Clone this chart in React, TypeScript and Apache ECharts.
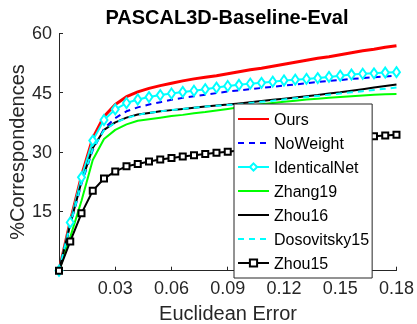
import React, { useEffect, useRef } from "react";
import * as echarts from "echarts";

const xValues = [0, 0.006, 0.012, 0.018, 0.024, 0.03, 0.036, 0.042, 0.048, 0.054, 0.06, 0.066, 0.072, 0.078, 0.084, 0.09, 0.096, 0.102, 0.108, 0.114, 0.12, 0.126, 0.132, 0.138, 0.144, 0.15, 0.156, 0.162, 0.168, 0.174, 0.18];

const ours = [0, 12.5, 24.0, 33.5, 39.0, 42.0, 44.0, 45.2, 46.1, 46.8, 47.4, 48.0, 48.5, 48.9, 49.3, 49.8, 50.3, 50.8, 51.2, 51.7, 52.2, 52.7, 53.2, 53.7, 54.1, 54.6, 55.1, 55.6, 56.0, 56.5, 56.9];
const noWeight = [0, 11.5, 22.0, 30.5, 35.9, 38.6, 40.3, 41.3, 42.0, 42.6, 43.2, 43.7, 44.1, 44.5, 44.9, 45.3, 45.6, 45.9, 46.2, 46.5, 46.8, 47.1, 47.4, 47.7, 48.0, 48.2, 48.5, 48.7, 48.9, 49.1, 49.3];
const identicalNet = [0, 12.2, 23.6, 32.9, 38.1, 40.8, 42.4, 43.3, 43.9, 44.4, 44.8, 45.2, 45.5, 45.9, 46.3, 46.7, 47.0, 47.3, 47.5, 47.8, 48.1, 48.3, 48.5, 48.7, 49.0, 49.3, 49.6, 49.8, 49.9, 50.1, 50.2];
const zhang19 = [0, 8.5, 17.7, 28.0, 33.3, 35.6, 37.0, 37.9, 38.3, 38.7, 39.1, 39.4, 39.8, 40.1, 40.5, 40.9, 41.3, 41.7, 42.1, 42.4, 42.7, 43.0, 43.3, 43.5, 43.7, 43.9, 44.1, 44.3, 44.5, 44.6, 44.7];
const zhou16 = [0, 11.8, 22.5, 31.0, 35.6, 37.5, 38.7, 39.5, 39.9, 40.3, 40.6, 40.9, 41.2, 41.5, 41.8, 42.0, 42.3, 42.6, 42.9, 43.2, 43.5, 43.8, 44.1, 44.4, 44.8, 45.1, 45.5, 45.9, 46.3, 46.7, 47.1];
const dosovitsky15 = [0, 11.6, 22.3, 30.8, 35.5, 37.4, 38.6, 39.4, 39.9, 40.3, 40.6, 40.9, 41.2, 41.5, 41.7, 41.9, 42.1, 42.4, 42.7, 43.0, 43.3, 43.6, 43.9, 44.2, 44.5, 44.8, 45.1, 45.4, 45.7, 46.0, 46.3];
const zhou15 = [0, 7.4, 14.5, 20.2, 23.3, 25.1, 26.4, 27.0, 27.6, 28.1, 28.5, 28.9, 29.2, 29.5, 29.8, 30.1, 30.4, 30.7, 31.0, 31.3, 31.6, 31.9, 32.2, 32.5, 32.8, 33.1, 33.4, 33.7, 34.0, 34.2, 34.4];

const seriesNames = ["Ours", "NoWeight", "IdenticalNet", "Zhang19", "Zhou16", "Dosovitsky15", "Zhou15"];
const markerSeries = ["IdenticalNet", "Zhou15"];
const xTickValues = [0.03, 0.06, 0.09, 0.12, 0.15, 0.18];
const yTickValues = [15, 30, 45, 60];

const titleText = "PASCAL3D-Baseline-Eval";
const xLabelText = "Euclidean Error";
const yLabelText = "%Correspondences";

const FONT = "'Liberation Sans', Arial, Helvetica, sans-serif";
const AXIS_COLOR = "#262626";

function pairs(ys: number[]) {
  return xValues.map((x, i) => [x, ys[i]]);
}

export default function App() {
  const ref = useRef<HTMLDivElement>(null);
  useEffect(() => {
    if (!ref.current) return;
    const chart = echarts.init(ref.current, null, { renderer: "svg" });
    const lineBase = (name: string, ys: number[], color: string, width: number, type: any, extra: any = {}) => ({
      name,
      type: "line",
      data: pairs(ys),
      symbol: "none",
      showSymbol: false,
      lineStyle: { color, width, type },
      itemStyle: { color },
      emphasis: { disabled: true },
      ...extra,
    });
    const legendData = seriesNames.map((n) =>
      markerSeries.indexOf(n) >= 0
        ? { name: n }
        : { name: n, itemStyle: { color: "rgba(0,0,0,0)", borderColor: "rgba(0,0,0,0)", borderWidth: 0 } }
    );
    chart.setOption({
      animation: false,
      textStyle: { fontFamily: FONT },
      grid: { left: 59, top: 33.4, width: 338, height: 237.3, containLabel: false },
      xAxis: {
        type: "value",
        min: 0,
        max: 0.18,
        interval: 0.03,
        axisLine: { show: true, lineStyle: { color: AXIS_COLOR, width: 1 } },
        axisTick: { show: true, inside: true, length: 4, lineStyle: { color: AXIS_COLOR } },
        splitLine: { show: false },
        axisLabel: {
          fontSize: 18,
          color: AXIS_COLOR,
          fontFamily: FONT,
          margin: 8,
          formatter: (v: number) => {
            const hit = xTickValues.find((t) => Math.abs(t - v) < 1e-9);
            return hit !== undefined ? hit.toFixed(2) : "";
          },
        },
      },
      yAxis: {
        type: "value",
        min: 0,
        max: 60,
        interval: 15,
        axisLine: { show: true, lineStyle: { color: AXIS_COLOR, width: 1 } },
        axisTick: { show: true, inside: true, length: 4, lineStyle: { color: AXIS_COLOR } },
        splitLine: { show: false },
        axisLabel: {
          fontSize: 18,
          color: AXIS_COLOR,
          fontFamily: FONT,
          margin: 7,
          formatter: (v: number) => (yTickValues.indexOf(v) >= 0 ? String(v) : ""),
        },
      },
      legend: {
        orient: "vertical",
        left: 234,
        top: 104,
        padding: [6, 3, 6, 3],
        itemGap: 6,
        itemWidth: 31,
        itemHeight: 9,
        backgroundColor: "#ffffff",
        borderColor: AXIS_COLOR,
        borderWidth: 1,
        borderRadius: 0,
        selectedMode: false,
        textStyle: { fontSize: 16, color: "#000", fontFamily: FONT, lineHeight: 18 },
        data: legendData,
      },
      graphic: [
        {
          type: "text",
          x: 227,
          y: 17,
          style: { text: titleText, font: `bold 20px ${FONT}`, fill: "#000", align: "center", verticalAlign: "middle" },
        },
        {
          type: "text",
          x: 228,
          y: 313,
          style: { text: xLabelText, font: `20px ${FONT}`, fill: AXIS_COLOR, align: "center", verticalAlign: "middle" },
        },
        {
          type: "text",
          x: 17,
          y: 152,
          rotation: Math.PI / 2,
          style: { text: yLabelText, font: `20px ${FONT}`, fill: AXIS_COLOR, align: "center", verticalAlign: "middle" },
        },
      ],
      series: [
        lineBase(seriesNames[0], ours, "#ff0000", 3, "solid"),
        lineBase(seriesNames[1], noWeight, "#0000ff", 2, [6, 5]),
        lineBase(seriesNames[2], identicalNet, "#00ffff", 2, "solid", {
          symbol: "emptyDiamond",
          symbolSize: [7, 10],
          showSymbol: true,
          itemStyle: { color: "#00ffff", borderColor: "#00ffff", borderWidth: 1.5 },
        }),
        lineBase(seriesNames[3], zhang19, "#00ff00", 2, "solid"),
        lineBase(seriesNames[4], zhou16, "#000000", 2, "solid"),
        lineBase(seriesNames[5], dosovitsky15, "#00ffff", 2, [6, 5]),
        lineBase(seriesNames[6], zhou15, "#000000", 2, "solid", {
          symbol: "emptyRect",
          symbolSize: 6,
          showSymbol: true,
          itemStyle: { color: "#000000", borderColor: "#000000", borderWidth: 1.5 },
        }),
      ],
    });
    return () => chart.dispose();
  }, []);
  return <div ref={ref} style={{ position: "fixed", left: 0, top: 0, width: 417, height: 324 }} />;
}
